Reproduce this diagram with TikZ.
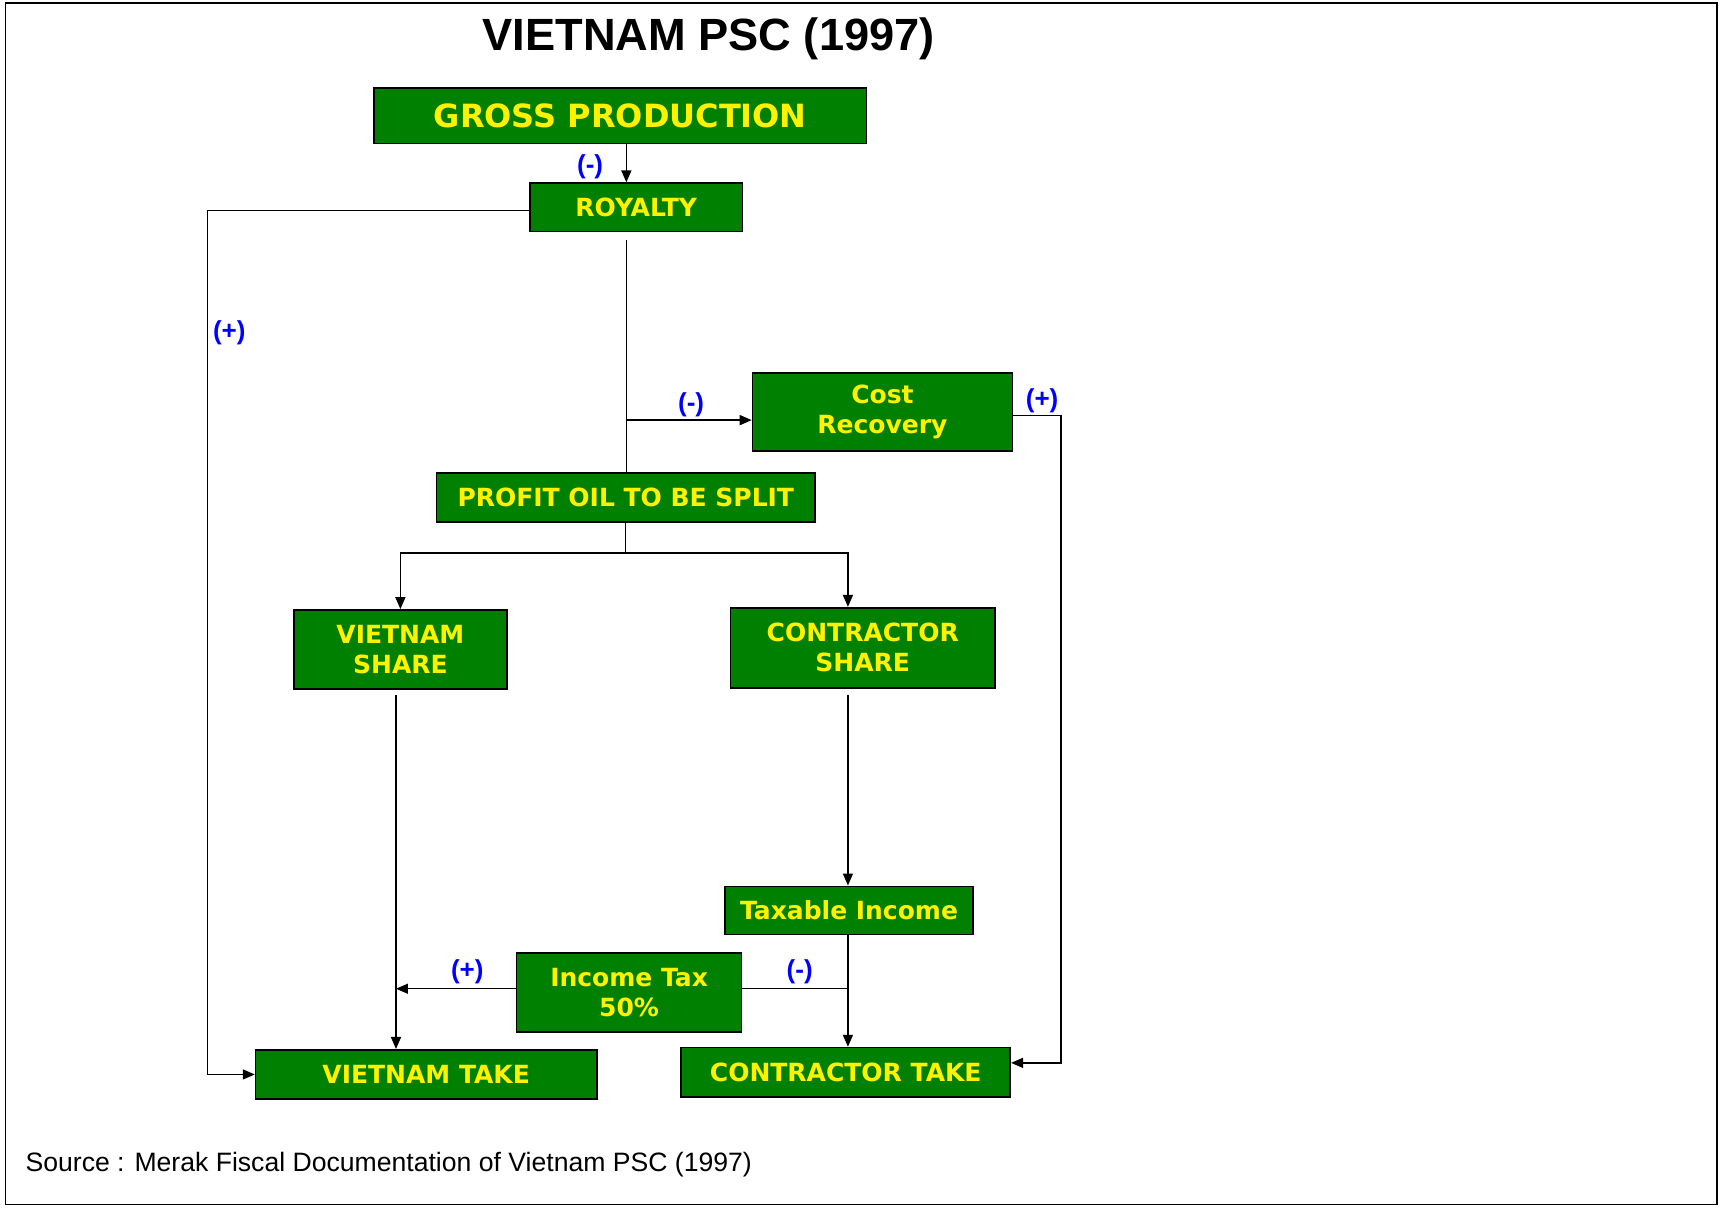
\documentclass[tikz,border=0pt]{standalone}
\usepackage{fontspec}
\setmainfont{Liberation Sans}
\newfontfamily\verdana{DejaVu Sans}
\usepackage{tikz}
\usetikzlibrary{arrows.meta,calc}
\definecolor{boxgreen}{RGB}{0,128,0}
\definecolor{signblue}{RGB}{0,0,255}
\newcommand{\pxu}{0.5486pt}

\begin{document}
\begin{tikzpicture}[
  x=0.5486pt, y=-0.5486pt,
  box/.style={draw=black, line width=0.8pt, fill=boxgreen, text=yellow,
              align=center, inner sep=0pt,
              font=\verdana\bfseries\fontsize{12.5}{15}\selectfont},
  wh/.style 2 args={minimum width=#1*\pxu, minimum height=#2*\pxu},
  sign/.style={text=signblue, inner sep=0pt,
               font=\bfseries\fontsize{13}{13}\selectfont},
  arr/.style={-{Triangle[length=6pt,width=5pt]}, line width=0.75pt},
  link/.style={line width=0.75pt}
]
  \useasboundingbox (0,0) rectangle (1568,1100.4);
  \draw[line width=0.9pt] (5,3) rectangle (1565,1098);

  % Title
  \node[font=\bfseries\fontsize{22.6}{27}\selectfont] (title) at (646,35)
    {VIETNAM PSC (1997)};

  % Boxes
  \node[box, wh={449}{51}, font=\verdana\bfseries\fontsize{16}{19}\selectfont]
    (gross) at (565.5,105.5) {GROSS PRODUCTION};
  \node[box, wh={194}{44}] (roy) at (580,189) {ROYALTY};
  \node[box, wh={237}{71}] (cost) at (804.5,375.5) {Cost\\Recovery};
  \node[box, wh={345}{45}] (profit) at (570.5,453.5) {PROFIT OIL TO BE SPLIT};
  \node[box, wh={194}{72}] (vshare) at (365,592) {VIETNAM\\SHARE};
  \node[box, wh={241}{73}] (cshare) at (786.5,590.5) {CONTRACTOR\\SHARE};
  \node[box, wh={226}{44}] (taxinc) at (774,830) {Taxable Income};
  \node[box, wh={205}{72}] (inctax) at (573.5,905) {Income Tax\\50\%};
  \node[box, wh={311}{45}] (vtake) at (388.5,979.5) {VIETNAM TAKE};
  \node[box, wh={300}{45}] (ctake) at (771,977.5) {CONTRACTOR TAKE};

  % Rails and junctions
  \coordinate (trunk) at (571,0);
  \coordinate (lrail) at (189,0);
  \coordinate (rrail) at (967,0);
  \coordinate (vcol) at (361,0);
  \coordinate (ccol) at (773,0);
  \coordinate (crsplit) at (571,383);
  \coordinate (split) at (570,504);
  \coordinate (royout) at ([yshift=-1.6pt]roy.west);
  \coordinate (crout) at ([yshift=-1.9pt]cost.east);
  \coordinate (ctin) at ([yshift=4.7pt]ctake.east);
  \coordinate (taxout) at ([yshift=2pt]inctax.west);
  \coordinate (taxin) at ([yshift=2.2pt]inctax.east);

  % Connectors
  \draw[arr] (gross.south -| trunk) -- (roy.north -| trunk);
  \draw[arr] (royout) -- (royout -| lrail) |- (vtake.west);
  \draw[link, shorten <=7*\pxu] (roy.south -| trunk) -- (profit.north -| trunk);
  \draw[arr] (crsplit) -- (crsplit -| cost.west);
  \draw[arr] (crout) -- (crout -| rrail) |- (ctin);
  \draw[link] (profit.south -| split) -- (split);
  \draw[arr] (split) -| (vshare.north);
  \draw[arr] (split) -| (ccol |- cshare.north);
  \draw[arr, shorten <=5*\pxu] (vcol |- vshare.south) -- (vcol |- vtake.north);
  \draw[arr, shorten <=6*\pxu] (ccol |- cshare.south) -- (ccol |- taxinc.north);
  \draw[arr] (ccol |- taxinc.south) -- (ccol |- ctake.north);
  \draw[link] (taxin) -- (taxin -| ccol);
  \draw[arr] (taxout) -- (taxout -| vcol);

  % Signs
  \node[sign] (sgross) at (538,152) {(-)};
  \node[sign] (sroy) at (209,303) {(+)};
  \node[sign] (scost) at (630,369) {(-)};
  \node[sign] (scostout) at (950,365) {(+)};
  \node[sign] (staxleft) at (426,886) {(+)};
  \node[sign] (staxright) at (729,886) {(-)};

  % Source
  \node[anchor=west, inner sep=0pt, font=\fontsize{13.3}{16}\selectfont]
    (source) at (23,1062)
    {Source : Merak Fiscal Documentation of Vietnam PSC (1997)};
\end{tikzpicture}
\end{document}
